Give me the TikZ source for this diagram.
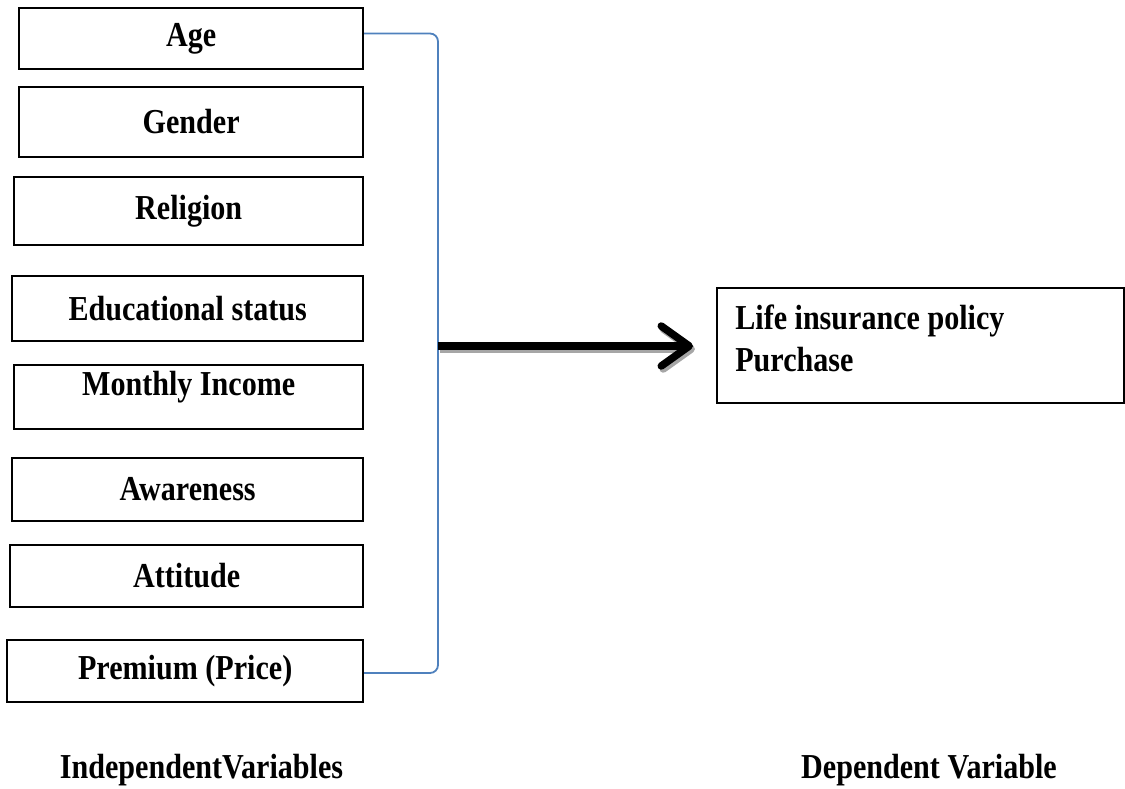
\documentclass[tikz,border=0pt]{standalone}
\usepackage{fontspec}
\setmainfont{Liberation Serif}[FakeStretch=0.86]
\usetikzlibrary{arrows.meta}
\definecolor{linkblue}{RGB}{79,129,189}

\tikzset{
  var/.style={draw, line width=1.6pt, inner sep=0pt,
    font=\bfseries\fontsize{35}{42}\selectfont},
  grouptext/.style={font=\bfseries\fontsize{35}{42}\selectfont},
  bracket/.style={draw=linkblue, line width=1.8pt, rounded corners=8pt},
  bigarrow/.style={line width=7.5pt, -{Straight Barb[length=28pt,width=40pt,round]}},
  arrowshadow/.style={bigarrow, draw=black!35},
}

\begin{document}
\begin{tikzpicture}[x=1pt, y=-1pt]
    \useasboundingbox (0,0) rectangle (1125,788);

    % independent variables
    \node[var, minimum width=344pt, minimum height=61pt, anchor=east] (age)      at (364,38.5) {Age};
    \node[var, minimum width=344pt, minimum height=70pt, anchor=east] (gender)   at (364,122)  {Gender};
    \node[var, minimum width=349pt, minimum height=68pt, anchor=east] (religion) at (364,211)  {Religion};
    \node[var, minimum width=351pt, minimum height=65pt, anchor=east] (edu)      at (364,308.5) {Educational status};
    \node[var, minimum width=349pt, minimum height=64pt, anchor=east, text depth=27pt] (income) at (364,397) {Monthly Income};
    \node[var, minimum width=351pt, minimum height=63pt, anchor=east] (aware)    at (364,489.5) {Awareness};
    \node[var, minimum width=353pt, minimum height=62pt, anchor=east] (attitude) at (364,576)  {Attitude};
    \node[var, minimum width=356pt, minimum height=62pt, anchor=east] (premium)  at (364,671)  {Premium (Price)};

    % dependent variable
    \node[var, anchor=north west, minimum width=407pt, minimum height=115pt,
          text width=370pt, align=flush left, text depth=57pt] (purchase) at (716,287)
          {Life insurance policy\\Purchase};

    \node[grouptext, anchor=base] (indep) at (201.5,778) {IndependentVariables};
    \node[grouptext, anchor=base] (dep)   at (929,778)   {Dependent Variable};

    \coordinate (join) at (438,346);
    \coordinate (tip)  at (693,346);

    \draw[bracket] ([yshift=5pt]age.east) -| (join) |- ([yshift=-2pt]premium.east);

    \draw[arrowshadow] ([shift={(2,3)}]join) -- ([shift={(2,3)}]tip);
    \draw[bigarrow] (join) -- (tip);
\end{tikzpicture}
\end{document}
